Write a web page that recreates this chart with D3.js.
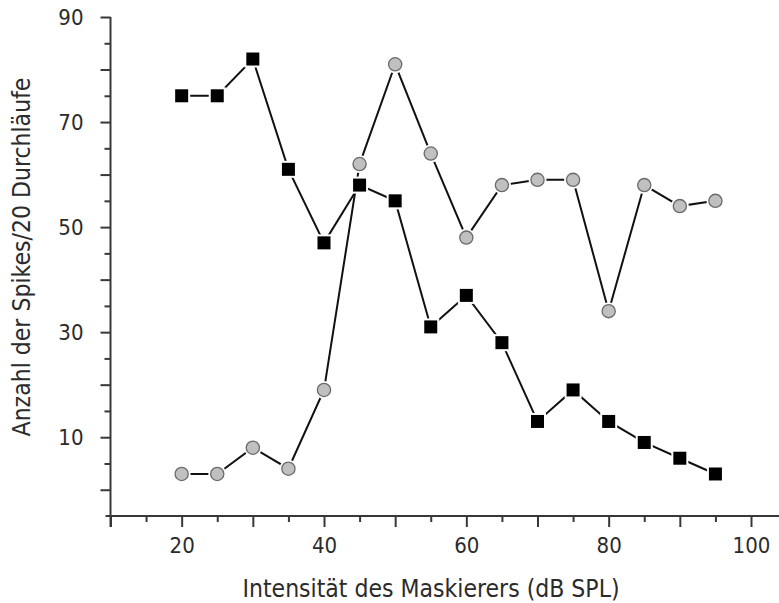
<!DOCTYPE html>
<html>
<head>
<meta charset="utf-8">
<script src="https://cdn.jsdelivr.net/npm/d3@7"></script>
<style>
  html, body { margin: 0; padding: 0; background: #fff; }
  svg text { font-family: "DejaVu Sans Condensed", "DejaVu Sans", sans-serif; fill: #2b2b2b; }
</style>
</head>
<body>
<svg id="chart" width="779" height="603"></svg>
<script>
// Masker intensity in dB SPL
const intensity = [20, 25, 30, 35, 40, 45, 50, 55, 60, 65, 70, 75, 80, 85, 90, 95];
// Spike counts per 20 runs
const squareSeries = [75, 75, 82, 61, 47, 58, 55, 31, 37, 28, 13, 19, 13, 9, 6, 3];
const circleSeries = [3, 3, 8, 4, 19, 62, 81, 64, 48, 58, 59, 59, 34, 58, 54, 55];

const xMajorTicks = [10, 20, 30, 40, 50, 60, 70, 80, 90, 100];
const xMinorTicks = [15, 25, 35, 45, 55, 65, 75, 85, 95];
const xLabelTicks = [20, 40, 60, 80, 100];
const yMajorTicks = [0, 10, 20, 30, 40, 50, 60, 70, 80, 90];
const yMinorTicks = [5, 15, 25, 35, 45, 55, 65, 75, 85];
const yLabelTicks = [10, 30, 50, 70, 90];

const xTitle = "Intensität des Maskierers (dB SPL)";
const yTitle = "Anzahl der Spikes/20  Durchläufe";

const svg = d3.select("#chart");
const axisColor = "#383838";

const x = d3.scaleLinear().domain([10, 100]).range([110.5, 751]);
const y = d3.scaleLinear().domain([-5, 90]).range([516, 17]);

// ---- axes ----
function styleAxis(g) {
  g.select(".domain").remove();
  g.selectAll(".tick line").attr("stroke", axisColor).attr("stroke-width", 2);
  g.selectAll(".tick text").attr("font-size", 22).attr("fill", "#2b2b2b");
}

const yAxisG = svg.append("g").attr("transform", `translate(${x(10)},0)`);
yAxisG.append("g")
  .call(d3.axisLeft(y).tickValues(yMinorTicks).tickSize(6).tickFormat(""))
  .call(styleAxis);
yAxisG.append("g")
  .call(d3.axisLeft(y).tickValues(yMajorTicks).tickSize(10).tickPadding(17)
    .tickFormat(d => yLabelTicks.includes(d) ? d : ""))
  .call(styleAxis);

const xAxisG = svg.append("g").attr("transform", `translate(0,${y(-5)})`);
xAxisG.append("g")
  .call(d3.axisBottom(x).tickValues(xMinorTicks).tickSize(6).tickFormat(""))
  .call(styleAxis);
xAxisG.append("g")
  .call(d3.axisBottom(x).tickValues(xMajorTicks).tickSize(11).tickPadding(10)
    .tickFormat(d => xLabelTicks.includes(d) ? d : ""))
  .call(styleAxis);

// axis lines
svg.append("line")
  .attr("x1", x(10)).attr("x2", x(10))
  .attr("y1", y(90)).attr("y2", y(-5) + 11)
  .attr("stroke", axisColor).attr("stroke-width", 2);
svg.append("line")
  .attr("x1", x(10) - 5).attr("x2", 779)
  .attr("y1", y(-5)).attr("y2", y(-5))
  .attr("stroke", axisColor).attr("stroke-width", 2);

// axis titles
svg.append("text")
  .attr("x", 431).attr("y", 597)
  .attr("text-anchor", "middle")
  .attr("font-size", 24.5)
  .text(xTitle);
svg.append("text")
  .attr("transform", `translate(30,257) rotate(-90)`)
  .attr("text-anchor", "middle")
  .attr("font-size", 24.5)
  .text(yTitle);

// ---- series ----
const line = d3.line().x((d, i) => x(intensity[i])).y(d => y(d));

function drawLine(values) {
  svg.append("path")
    .datum(values)
    .attr("fill", "none")
    .attr("stroke", "#111")
    .attr("stroke-width", 2)
    .attr("d", line);
}

drawLine(circleSeries);
drawLine(squareSeries);

// circle markers with a thin white halo
svg.append("g").selectAll("circle.halo")
  .data(circleSeries).join("circle")
  .attr("cx", (d, i) => x(intensity[i]))
  .attr("cy", d => y(d))
  .attr("r", 9)
  .attr("fill", "#fff");
svg.append("g").selectAll("circle.mark")
  .data(circleSeries).join("circle")
  .attr("cx", (d, i) => x(intensity[i]))
  .attr("cy", d => y(d))
  .attr("r", 6.6)
  .attr("fill", "#c0c0c0")
  .attr("stroke", "#6a6a6a")
  .attr("stroke-width", 1.3);

// square markers with a thin white halo
const sq = 13;
svg.append("g").selectAll("rect.halo")
  .data(squareSeries).join("rect")
  .attr("x", (d, i) => x(intensity[i]) - sq / 2 - 2)
  .attr("y", d => y(d) - sq / 2 - 2)
  .attr("width", sq + 4).attr("height", sq + 4)
  .attr("fill", "#fff");
svg.append("g").selectAll("rect.mark")
  .data(squareSeries).join("rect")
  .attr("x", (d, i) => x(intensity[i]) - sq / 2)
  .attr("y", d => y(d) - sq / 2)
  .attr("width", sq).attr("height", sq)
  .attr("fill", "#000");
</script>
</body>
</html>
